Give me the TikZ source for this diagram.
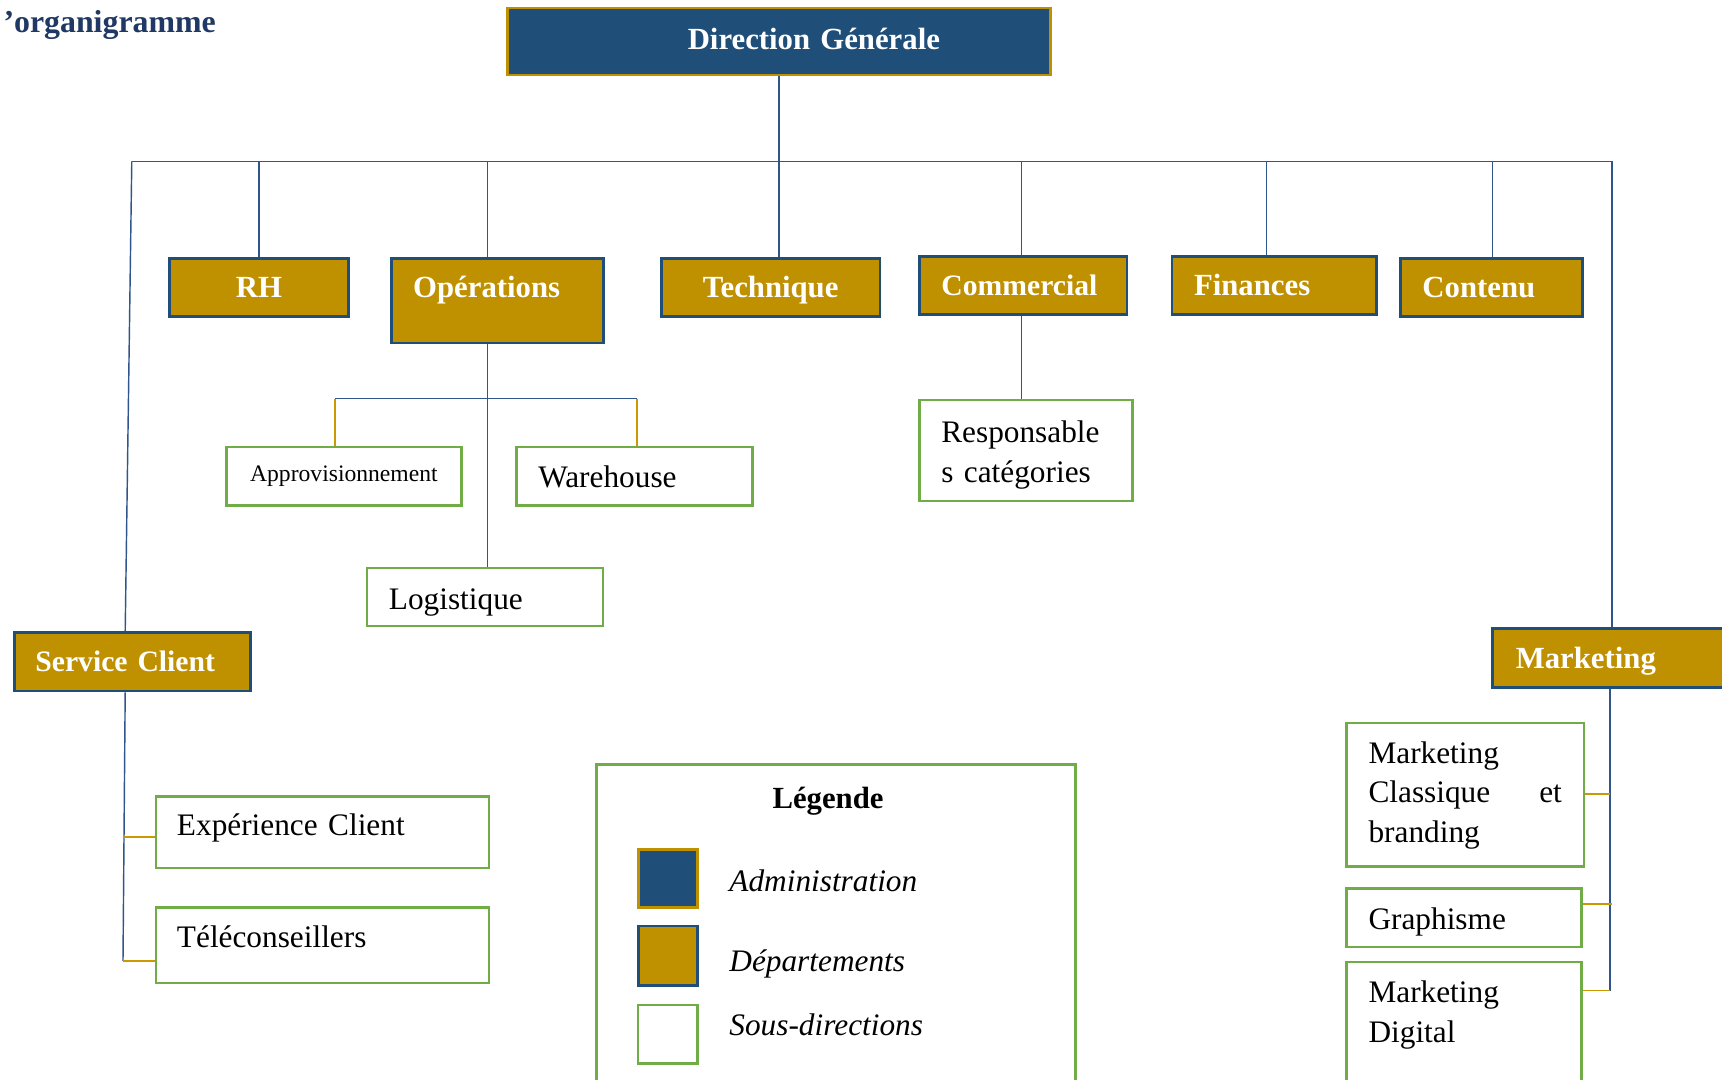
\documentclass[tikz,border=0pt]{standalone}
\usepackage{fontspec}
\setmainfont{Liberation Serif}
\definecolor{cNavy}{RGB}{31,78,121}
\definecolor{cGold}{RGB}{191,144,0}
\definecolor{cGreen}{RGB}{112,173,71}
\definecolor{cTitle}{RGB}{31,56,100}
\definecolor{cLine}{RGB}{47,85,140}
\definecolor{cStub}{RGB}{204,153,0}
\newcommand\fdept{\fontsize{28}{34}\selectfont\bfseries}
\newcommand\fsub{\fontsize{28.5}{36}\selectfont}
\tikzset{
  box/.style={anchor=north west, inner ysep=0pt, inner xsep=20pt, align=left},
  admin/.style={box, fill=cNavy, draw=cGold, line width=2.5pt, text=white, font=\fdept},
  dept/.style={box, fill=cGold, draw=cNavy, line width=2.5pt, text=white, font=\fdept},
  sub/.style={box, fill=white, draw=cGreen, line width=2.3pt, text=black, font=\fsub},
  cb/.style={draw=cLine, line width=1.3pt},
  cg/.style={draw=cStub, line width=1.3pt},
  legtext/.style={anchor=base west, inner sep=0pt, font=\fsub\itshape},
}
\begin{document}
\begin{tikzpicture}[x=1pt, y=-1pt]
\useasboundingbox[fill=white] (0,0) rectangle (1568,983);

% title
\node[anchor=base west, inner sep=0pt, text=cTitle, font=\fontsize{29}{34}\selectfont\bfseries] (title) at (3,30) {’organigramme};

% administration
\node[admin, minimum width=494pt, minimum height=61pt, text width=454pt, text height=38pt, text depth=23pt] (dg) at (461,6) {\hspace*{144pt}Direction Générale};

% departments
\node[dept, align=center, minimum width=163pt, minimum height=53pt, text width=123pt, text height=36pt, text depth=17pt] (rh) at (153,234) {RH};
\node[dept, minimum width=193pt, minimum height=77pt, text width=153pt, text height=36pt, text depth=41pt] (ops) at (355,234) {Opérations};
\node[dept, align=center, minimum width=199pt, minimum height=53pt, text width=159pt, text height=36pt, text depth=17pt] (tech) at (601,234) {Technique};
\node[dept, font=\fontsize{27}{32}\selectfont\bfseries, minimum width=189pt, minimum height=53pt, text width=149pt, text height=36pt, text depth=17pt] (com) at (836,232) {Commercial};
\node[dept, minimum width=186pt, minimum height=53pt, text width=146pt, text height=36pt, text depth=17pt] (fin) at (1066,232) {Finances};
\node[dept, minimum width=166pt, minimum height=53pt, text width=126pt, text height=36pt, text depth=17pt] (cont) at (1274,234) {Contenu};
\node[dept, font=\fontsize{27}{32}\selectfont\bfseries, inner xsep=19pt, minimum width=215pt, minimum height=53pt, text width=177pt, text height=35pt, text depth=18pt] (sc) at (12,575) {Service Client};
\node[dept, inner xsep=21pt, minimum width=232pt, minimum height=54pt, text width=190pt, text height=36pt, text depth=18pt] (mk) at (1358,571) {Marketing};

% sub-directions
\node[sub, align=center, inner xsep=15pt, font=\fontsize{21.5}{26}\selectfont, minimum width=214pt, minimum height=53pt, text width=184pt, text height=31pt, text depth=22pt] (appro) at (205,406) {Approvisionnement};
\node[sub, minimum width=215pt, minimum height=53pt, text width=175pt, text height=37pt, text depth=16pt] (ware) at (469,406) {Warehouse};
\node[sub, minimum width=215pt, minimum height=53pt, text width=175pt, text height=38pt, text depth=15pt] (logi) at (333,516) {Logistique};
\node[sub, minimum width=194pt, minimum height=92pt, text width=154pt, text height=39pt, text depth=53pt] (resp) at (836,363) {Responsable\\s catégories};
\node[sub, inner xsep=19pt, minimum width=303pt, minimum height=65pt, text width=265pt, text height=36pt, text depth=29pt] (exp) at (141,724) {Expérience Client};
\node[sub, inner xsep=19pt, minimum width=303pt, minimum height=69pt, text width=265pt, text height=37pt, text depth=32pt] (tele) at (141,825) {Téléconseillers};
\node[sub, minimum width=214pt, minimum height=131pt, text width=176pt, text height=37pt, text depth=94pt] (mcb) at (1225,657) {Marketing\\Classique\hfill et\\branding};
\node[sub, minimum width=214pt, minimum height=53pt, text width=174pt, text height=37pt, text depth=16pt] (graph) at (1225,808) {Graphisme};
\node[sub, minimum width=214pt, minimum height=140pt, text width=174pt, text height=37pt, text depth=103pt] (md) at (1225,875) {Marketing\\Digital};

% legend
\node[sub, minimum width=436pt, minimum height=330pt, inner sep=0pt] (leg) at (542,695) {};
\node[anchor=base, inner sep=0pt, font=\fdept] (legt) at (754,736) {Légende};
\node[admin, minimum width=54pt, minimum height=53pt, inner sep=0pt] (sq1) at (580,772) {};
\node[dept, minimum width=54pt, minimum height=54pt, inner sep=0pt] (sq2) at (580,842) {};
\node[sub, minimum width=54pt, minimum height=53pt, inner sep=0pt] (sq3) at (580,914) {};
\node[legtext] (l1) at (664,812) {Administration};
\node[legtext] (l2) at (664,885) {Départements};
\node[legtext] (l3) at (664,943) {Sous-directions};

% connector coordinates
\coordinate (bl) at (120,147);
\coordinate (br) at (1468,147);
\coordinate (xo) at (444,0);
\coordinate (xc) at (930,0);
\coordinate (xf) at (1153,0);
\coordinate (xn) at (1359,0);
\coordinate (xs) at (114,0);
\coordinate (xm) at (1466,0);
\coordinate (opl) at (305,363);
\coordinate (opr) at (580,363);
\coordinate (se) at (112,762);
\coordinate (st) at (112,875);
\coordinate (m1) at (1466,723);
\coordinate (m2) at (1468,823);
\coordinate (m3) at (1466,902);

% main tree
\draw[cb] (dg.south) -- (tech.north -| dg.south);
\draw[cb] (bl) -- (br);
\draw[cb] (bl) -- (sc.north -| xs);
\draw[cb] (br) -- (br |- mk.north);
\draw[cb] (rh.north) -- (rh.north |- bl);
\draw[cb] (ops.north -| xo) -- (xo |- bl);
\draw[cb] (com.north -| xc) -- (xc |- bl);
\draw[cb] (fin.north -| xf) -- (xf |- bl);
\draw[cb] (cont.north -| xn) -- (xn |- bl);

% operations
\draw[cb] (ops.south -| xo) -- (logi.north -| xo);
\draw[cb] (opl) -- (opr);
\draw[cg] (opl) -- (appro.north -| opl);
\draw[cg] (opr) -- (ware.north -| opr);

% commercial
\draw[cb] (com.south -| xc) -- (resp.north -| xc);

% service client
\draw[cb] (sc.south -| xs) -- (st);
\draw[cg] (se) -- (exp.west |- se);
\draw[cg] (st) -- (tele.west |- st);

% marketing
\draw[cb] (mk.south -| xm) -- (m3);
\draw[cg] (mcb.east |- m1) -- (m1);
\draw[cg] (graph.east |- m2) -- (m2);
\draw[cg] (md.east |- m3) -- (m3);
\end{tikzpicture}
\end{document}
